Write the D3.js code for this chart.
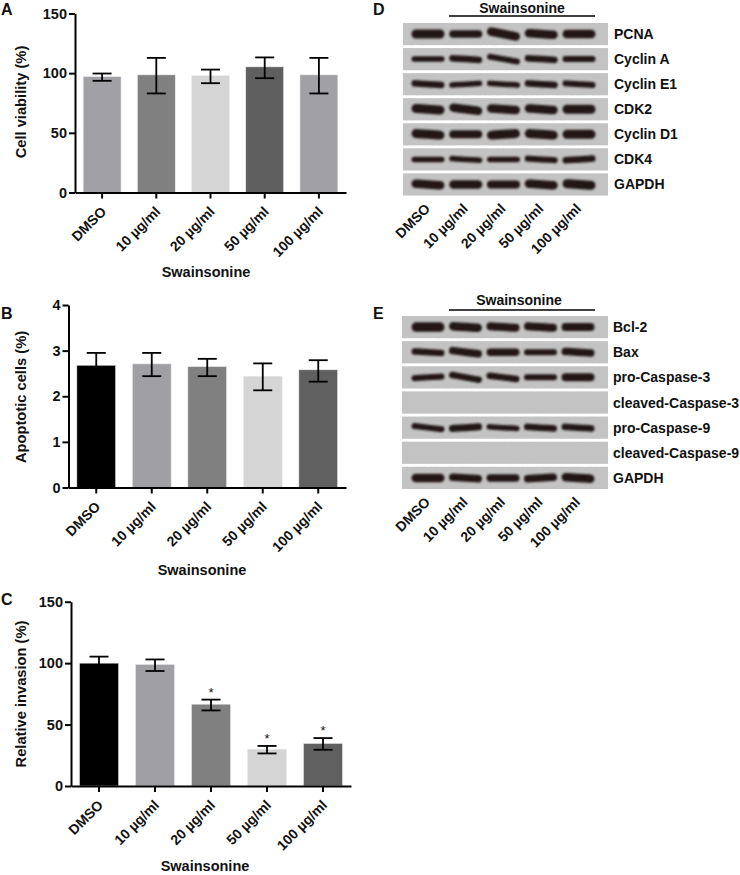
<!DOCTYPE html>
<html><head><meta charset="utf-8">
<script src="https://cdn.jsdelivr.net/npm/d3@7"></script>
<style>html,body{margin:0;padding:0;background:#fff}svg{display:block}text{font-family:"Liberation Sans",Arial,sans-serif;font-weight:bold;fill:#111}</style>
</head><body><div id="c"></div>
<script>
const categories = ["DMSO","10 µg/ml","20 µg/ml","50 µg/ml","100 µg/ml"];
const xTitle = "Swainsonine";

const viabilityMean = [97.2, 98.6, 98, 105.3, 98.6];
const viabilityHigh = [99.7, 112.8, 103, 113.2, 112.8];
const viabilityLow  = [93.6, 83, 91.6, 95.8, 83];
const viabilityColors = ["#a0a0a5","#808080","#d5d5d5","#5f5f5f","#a0a0a5"];
const viabilityTicks = [0,50,100,150];

const apoptosisMean = [2.68, 2.71, 2.65, 2.44, 2.58];
const apoptosisHigh = [2.95, 2.95, 2.82, 2.72, 2.79];
const apoptosisLow  = [2.41, 2.44, 2.44, 2.13, 2.32];
const apoptosisColors = ["#000000","#9f9fa4","#808080","#d5d5d5","#606060"];
const apoptosisTicks = [0,1,2,3,4];

const invasionMean = [100, 99, 66.6, 30, 34.7];
const invasionHigh = [105.3, 103, 70.3, 32.6, 39];
const invasionLow  = [94.7, 93.6, 61.5, 26.5, 29.5];
const invasionColors = ["#000000","#9f9fa4","#808080","#d5d5d5","#606060"];
const invasionTicks = [0,50,100,150];
const invasionStars = [false,false,true,true,true];

const cycleProteins = ["PCNA","Cyclin A","Cyclin E1","CDK2","Cyclin D1","CDK4","GAPDH"];
const cycleThickness = [
  [9,7.5,8.5,8.5,8.5],[5.5,6.5,6,6.5,6],[6.5,5.5,5.5,6.5,6],[9,8.5,8.5,8.5,9],[9,8,9,9,9],[5.5,5.5,5.5,6,6.5],[8.5,8.5,8,8.5,9]];
const cycleTilt = [
  [0,0,-3,-1,0],[0,-1,-3,-1,0],[-1,1,-1,-1,-1],[-1,-2,-1,-1,0],[-1,0,1,-1,0],[0,-1,0,-1,1],[-1,0,0,-1,-1]];

const deathProteins = ["Bcl-2","Bax","pro-Caspase-3","cleaved-Caspase-3","pro-Caspase-9","cleaved-Caspase-9","GAPDH"];
const deathThickness = [
  [9.5,8.5,8,8,8],[6.5,7.5,7.5,6,7.5],[6,6.5,6.5,6,8],[0,0,0,0,0],[6,7,5.5,6.5,6.5],[0,0,0,0,0],[8.5,7.5,7.5,7.5,8.5]];
const deathTilt = [
  [0,-1,-1,-1,0],[-1,-2,0,0,-1],[1,-3,-2,0,0],[0,0,0,0,0],[-2,1,-1,-1,-1],[0,0,0,0,0],[0,-1,0,1,-1]];

const W=740,H=875;
const svg=d3.select("#c").append("svg").attr("width",W).attr("height",H).attr("viewBox",[0,0,W,H]);
const defs=svg.append("defs");
const noise=defs.append("filter").attr("id","grain").attr("x",0).attr("y",0).attr("width",1).attr("height",1);
noise.append("feTurbulence").attr("type","fractalNoise").attr("baseFrequency",0.55).attr("numOctaves",2).attr("seed",4).attr("result","n");
noise.append("feColorMatrix").attr("in","n").attr("type","matrix")
  .attr("values","0 0 0 0 0.5  0 0 0 0 0.5  0 0 0 0 0.5  0.5 0 0 0 -0.15").attr("result","g");
noise.append("feBlend").attr("in","SourceGraphic").attr("in2","g").attr("mode","normal");
const blur=defs.append("filter").attr("id","soft").attr("filterUnits","userSpaceOnUse")
  .attr("x",0).attr("y",0).attr("width",W).attr("height",H);
blur.append("feGaussianBlur").attr("stdDeviation",0.9);

function barPanel(o){
  const g=svg.append("g");
  const x=d3.scaleBand().domain(categories).range(o.xr).paddingInner(0.3).paddingOuter(0.15);
  const y=d3.scaleLinear().domain(o.dom).range(o.yr);
  const axY=g.append("g").attr("transform",`translate(${o.xr[0]},0)`)
    .call(d3.axisLeft(y).tickValues(o.ticks).tickFormat(d3.format("d")).tickSize(6).tickPadding(2).tickSizeOuter(0));
  axY.selectAll("text").attr("font-size",o.tf).attr("fill","#111");
  const bw=x.bandwidth();
  g.selectAll(".bar").data(categories).join("rect")
    .attr("x",d=>x(d)).attr("width",bw)
    .attr("y",(d,i)=>y(o.mean[i])).attr("height",(d,i)=>y(0)-y(o.mean[i]))
    .attr("fill",(d,i)=>o.colors[i]).attr("stroke","#eee").attr("stroke-width",0.6);
  const axX=g.append("g").attr("transform",`translate(0,${o.yr[0]})`)
    .call(d3.axisBottom(x).tickSize(6).tickSizeOuter(0));
  axX.selectAll("text").attr("font-size",14).attr("text-anchor","end").attr("dy",null)
    .attr("fill","#111").attr("y",0)
    .attr("transform","translate(5,20) rotate(-45)");
  [axX,axY].forEach(a=>{a.selectAll("path,line").attr("stroke","#000").attr("stroke-width",2);});
  const eb=g.append("g").attr("stroke","#000").attr("stroke-width",1.8).attr("fill","none");
  categories.forEach((c,i)=>{
    const cx=x(c)+bw/2, cap=9.5;
    eb.append("line").attr("x1",cx).attr("x2",cx).attr("y1",y(o.high[i])).attr("y2",y(o.low[i]));
    [o.high[i],o.low[i]].forEach(v=>eb.append("line").attr("x1",cx-cap).attr("x2",cx+cap).attr("y1",y(v)).attr("y2",y(v)));
    if(o.stars&&o.stars[i]) g.append("text").attr("x",cx).attr("y",y(o.high[i])-3).attr("text-anchor","middle")
      .attr("font-size",13).style("font-weight","normal").text("*");
  });
  g.append("text").attr("transform",`translate(${o.ylx},${o.ylc}) rotate(-90)`).attr("text-anchor","middle")
    .attr("font-size",14.7).text(o.ylabel);
  g.append("text").attr("x",o.tx).attr("y",o.ty).attr("text-anchor","middle").attr("font-size",14.5).text(xTitle);
  g.append("text").attr("x",1).attr("y",o.ly).attr("font-size",16).text(o.letter);
}
barPanel({letter:"A",ly:14.5,xr:[75,346],yr:[192.5,13.5],dom:[0,150],ticks:viabilityTicks,tf:14.5,mean:viabilityMean,high:viabilityHigh,low:viabilityLow,colors:viabilityColors,ylabel:"Cell viability (%)",ylx:26,ylc:102,tx:206,ty:277});
barPanel({letter:"B",ly:319,xr:[68.5,346],yr:[487.5,305],dom:[0,4],ticks:apoptosisTicks,tf:14.5,mean:apoptosisMean,high:apoptosisHigh,low:apoptosisLow,colors:apoptosisColors,ylabel:"Apoptotic cells (%)",ylx:26,ylc:397,tx:202,ty:575});
barPanel({letter:"C",ly:605,xr:[71,351],yr:[786,601.7],dom:[0,150],ticks:invasionTicks,tf:14.5,mean:invasionMean,high:invasionHigh,low:invasionLow,colors:invasionColors,stars:invasionStars,ylabel:"Relative invasion (%)",ylx:26,ylc:694,tx:205,ty:871});

function blotPanel(o){
  const g=svg.append("g");
  const rows=d3.scaleBand().domain(o.proteins.map((d,i)=>i)).range(o.yr).paddingInner(0.12).paddingOuter(0);
  const lanes=d3.scalePoint().domain(categories).range(o.lr);
  const line=d3.line().curve(d3.curveBasis);
  o.proteins.forEach((p,r)=>{
    const ry=rows(r), h=rows.bandwidth(), cy=ry+h/2;
    g.append("rect").attr("x",o.xr[0]).attr("y",ry).attr("width",o.xr[1]-o.xr[0]).attr("height",h)
      .attr("fill","#c3c3c3").attr("filter","url(#grain)");
    const bg=g.append("g").attr("filter","url(#soft)").attr("fill","none").attr("stroke","#211717").attr("stroke-linecap","round");
    categories.forEach((c,l)=>{
      const t=o.thick[r][l]; if(!t) return;
      const lx=lanes(c), tl=o.tilt[r][l], hw=16.5-t/2;
      bg.append("path").attr("stroke-width",t)
        .attr("d",line([[lx-hw,cy-tl*-0.8],[lx,cy],[lx+hw,cy-tl*0.8]]));
    });
    g.append("text").attr("x",o.labelX).attr("y",cy+5).attr("font-size",o.lf).text(p);
  });
  categories.forEach(c=>{
    g.append("text").attr("text-anchor","end").attr("font-size",14)
      .attr("transform",`translate(${lanes(c)+3},${o.yr[1]+14}) rotate(-45)`).text(c);
  });
  g.append("line").attr("x1",449).attr("x2",595).attr("y1",o.lineY).attr("y2",o.lineY).attr("stroke","#000").attr("stroke-width",1.6);
  g.append("text").attr("x",o.tx).attr("y",o.titleY).attr("text-anchor","middle").attr("font-size",14).text(xTitle);
  g.append("text").attr("x",373).attr("y",o.ly).attr("font-size",16).text(o.letter);
}
blotPanel({letter:"D",ly:14.5,proteins:cycleProteins,thick:cycleThickness,tilt:cycleTilt,xr:[403,608],yr:[23,195.5],lr:[428,579],labelX:614,lf:14,lineY:16,titleY:13,tx:522});
blotPanel({letter:"E",ly:319,proteins:deathProteins,thick:deathThickness,tilt:deathTilt,xr:[402,608],yr:[316,489],lr:[428,578],labelX:613,lf:14,lineY:310,titleY:305,tx:519});
</script></body></html>
